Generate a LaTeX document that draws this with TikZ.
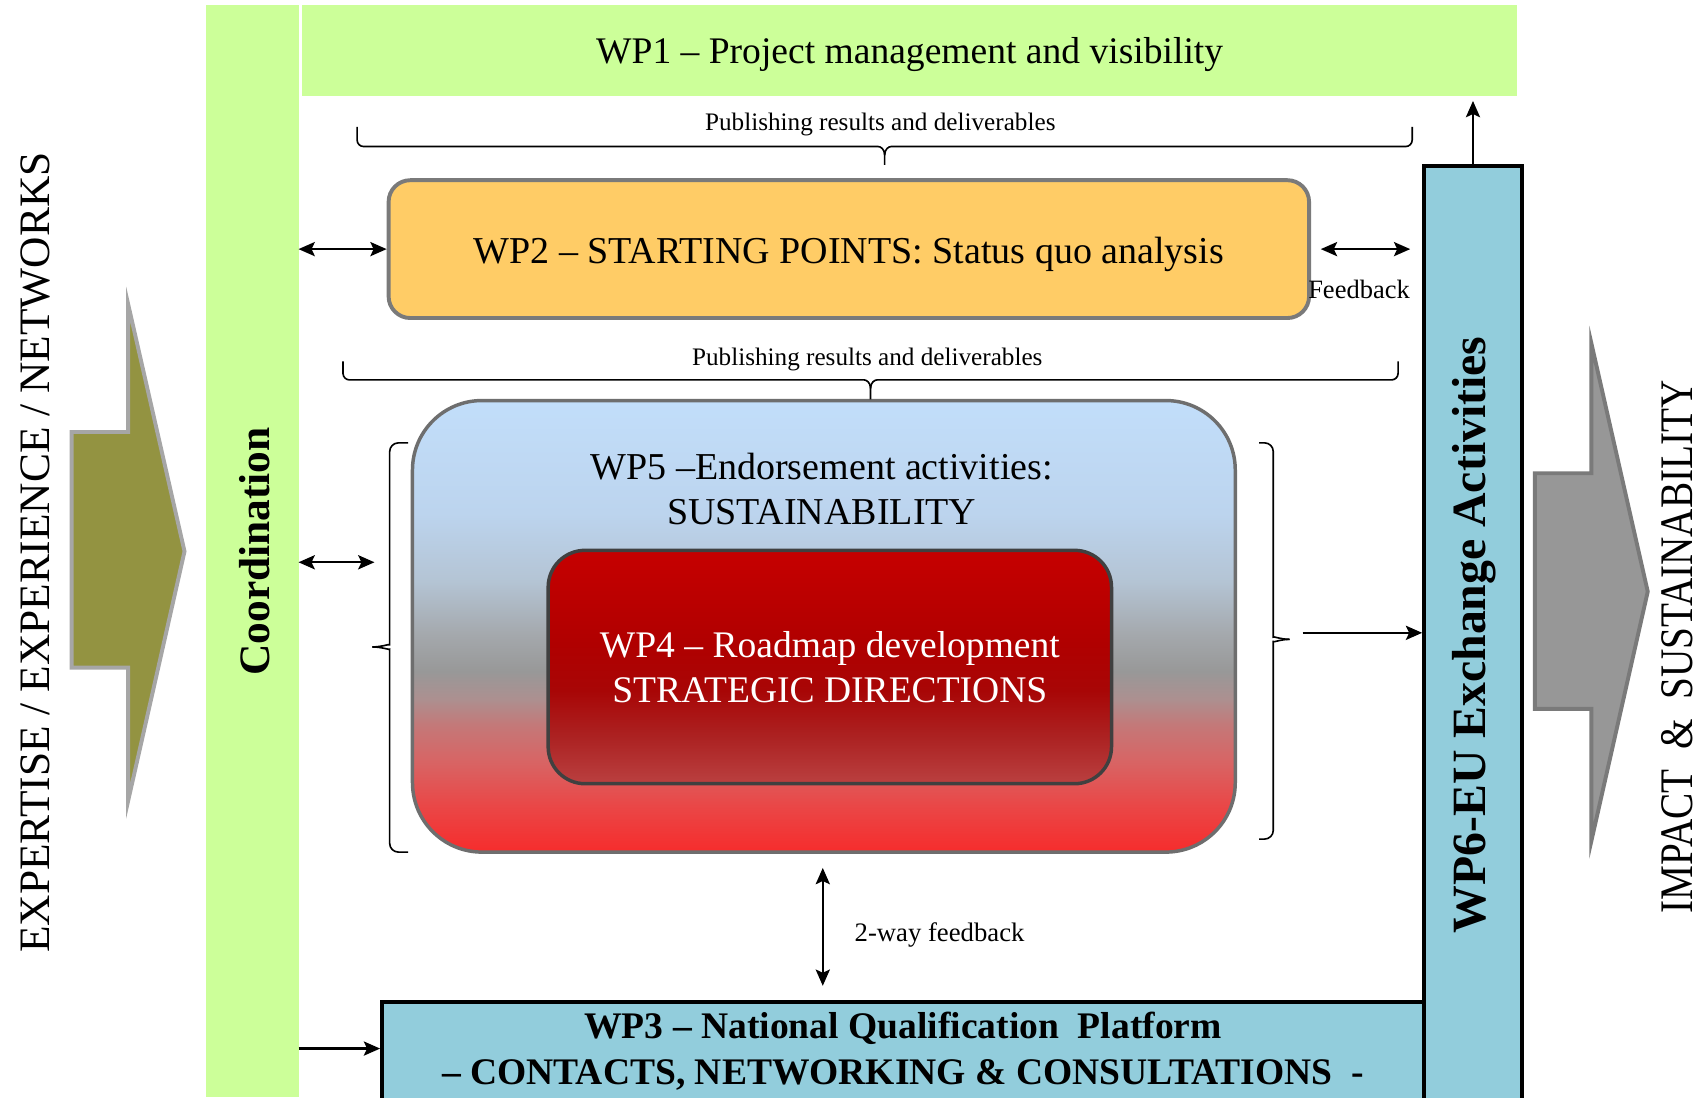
\documentclass[tikz,border=0pt]{standalone}
\usepackage{fontspec}
\setmainfont{Liberation Serif}
\newfontfamily\condfont[FakeStretch=0.84]{Liberation Serif}
\usetikzlibrary{arrows.meta}
\definecolor{lgreen}{HTML}{CCFF99}
\definecolor{wptwo}{HTML}{FFCC66}
\definecolor{teal}{HTML}{92CDDC}
\definecolor{olivearr}{HTML}{939341}
\definecolor{olivebrd}{HTML}{A6A6A6}
\definecolor{grayarr}{HTML}{979797}
\definecolor{graybrd}{HTML}{7A7A7A}
\definecolor{fa}{HTML}{F62C2C}
\definecolor{fb}{HTML}{EA4646}
\definecolor{fc}{HTML}{D86464}
\definecolor{fd}{HTML}{C47878}
\definecolor{fe}{HTML}{AC9090}
\definecolor{ff}{HTML}{989898}
\definecolor{fg}{HTML}{A4A8AC}
\definecolor{fh}{HTML}{B4C4D4}
\definecolor{fi}{HTML}{BCD4EE}
\definecolor{fj}{HTML}{C2DEFA}
\definecolor{ra}{HTML}{BA4040}
\definecolor{rb}{HTML}{AC2222}
\definecolor{rc}{HTML}{A80606}
\definecolor{rd}{HTML}{B00000}
\definecolor{re}{HTML}{C60000}
\pgfdeclareverticalshading{wpfiveshade}{100bp}{color(0bp)=(fa); color(25bp)=(fa); color(30bp)=(fb); color(35bp)=(fc); color(39bp)=(fd); color(42bp)=(fe); color(45bp)=(ff); color(49bp)=(fg); color(55bp)=(fh); color(62.5bp)=(fi); color(75bp)=(fj); color(100bp)=(fj)}
\pgfdeclareverticalshading{wpfourshade}{100bp}{color(0bp)=(ra); color(25bp)=(ra); color(35bp)=(rb); color(45bp)=(rc); color(55bp)=(rd); color(75bp)=(re); color(100bp)=(re)}
\begin{document}
\begin{tikzpicture}[x=0.5pt,y=-0.5pt,
  bar/.style={fill=lgreen, inner sep=0pt, outer sep=0pt},
  tealbox/.style={fill=teal, draw=black, line width=1.8pt, inner sep=0pt},
  dbl/.style={{Stealth[length=7.5pt,width=6.5pt,inset=1.5pt]}-{Stealth[length=7.5pt,width=6.5pt,inset=1.5pt]}, line width=1.1pt},
  sgl/.style={-{Stealth[length=7.5pt,width=6.5pt,inset=1.5pt]}, line width=1.1pt},
  brc/.style={line width=0.75pt, black},
  pub/.style={font=\fontsize{11.6}{13}\selectfont, inner sep=0pt}
]
\useasboundingbox (0,0) rectangle (1568,1011);
\clip (0,0) rectangle (1568,1011);

% big arrows
\draw[fill=olivearr, draw=olivebrd, line width=1.8pt, line join=miter]
  (66,398) -- (118,398) -- (118,280) -- (170,508) -- (118,738) -- (118,615) -- (66,615) -- cycle;
\draw[fill=grayarr, draw=graybrd, line width=1.8pt, line join=miter]
  (1414,436) -- (1466,436) -- (1466,316) -- (1518,545) -- (1466,775) -- (1466,653) -- (1414,653) -- cycle;

\node[rotate=90, font=\fontsize{20}{24}\selectfont, inner sep=0pt] (expt) at (33,509) {EXPERTISE / EXPERIENCE / NETWORKS};
\node[rotate=90, font=\fontsize{21.5}{26}\condfont, inner sep=0pt] (impt) at (1545,596) {IMPACT\ \ \&\ \ SUSTAINABILITY};

% coordination bar
\node[bar, minimum width=42.5pt, minimum height=503pt] (coord) at (232.5,508) {};
\node[rotate=90, font=\fontsize{20}{24}\selectfont\bfseries, inner sep=0pt] (coordt) at (235,508) {Coordination};

% WP1
\node[bar, minimum width=560pt, minimum height=41.5pt, text height=15.8pt, text depth=3.8pt, font=\fontsize{17.3}{20}\selectfont] (wp1) at (838,46.5) {WP1 – Project management and visibility};

% WP6
\node[tealbox, minimum width=45pt, minimum height=430.5pt] (wp6) at (1357,583.5) {};
\node[rotate=90, font=\fontsize{22}{26}\selectfont\bfseries, inner sep=0pt] (wp6t) at (1358,585) {WP6-EU Exchange Activities};

% WP3
\node[tealbox, minimum width=480pt, minimum height=45.5pt, align=center, font=\fontsize{17.3}{21.5}\selectfont\bfseries] (wp3) at (832,968.5)
  {WP3 – National Qualification\ \ Platform\\– CONTACTS, NETWORKING \& CONSULTATIONS\ \ -};

% WP2
\node[fill=wptwo, draw=graybrd, line width=1.8pt, rounded corners=10pt, minimum width=424pt, minimum height=63.5pt, inner sep=0pt, text height=17pt, text depth=3.8pt, font=\fontsize{17.5}{20}\selectfont] (wp2) at (782,229.5)
  {WP2 – STARTING POINTS: Status quo analysis};

% WP5
\node[shading=wpfiveshade, draw=graybrd!90!black, line width=1.6pt, rounded corners=32pt, minimum width=379pt, minimum height=208pt, inner sep=0pt] (wp5) at (759,577) {};
\node[align=center, font=\fontsize{17.5}{20.5}\selectfont, inner sep=0pt] (wp5t) at (757,450.5) {WP5 –Endorsement activities:\\SUSTAINABILITY};

% WP4
\node[shading=wpfourshade, draw=black!75, line width=1.6pt, rounded corners=17pt, minimum width=259.5pt, minimum height=107.5pt, inner sep=0pt, text=white, align=center, font=\fontsize{17.3}{21}\selectfont] (wp4) at (764.5,614.5)
  {WP4 – Roadmap development\\STRATEGIC DIRECTIONS};

% braces
\node[pub] (pub1) at (811,115) {Publishing results and deliverables};
\draw[brc] (329,117) [rounded corners=3pt] -- (329,135) -- (803,135) [sharp corners] .. controls (811,135) and (815,137) .. (815,143) -- (815,152);
\draw[brc] (1301,117) [rounded corners=3pt] -- (1301,135) -- (827,135) [sharp corners] .. controls (819,135) and (815,137) .. (815,143);
\node[pub] (pub2) at (799,331) {Publishing results and deliverables};
\draw[brc] (316,333) [rounded corners=3pt] -- (316,350) -- (790,350) [sharp corners] .. controls (798,350) and (802,352) .. (802,358) -- (802,368);
\draw[brc] (1288,333) [rounded corners=3pt] -- (1288,350) -- (814,350) [sharp corners] .. controls (806,350) and (802,352) .. (802,358);

% brackets around WP5
\draw[brc] (376,408) [rounded corners=4pt] -- (359,408) -- (359,586) [sharp corners] .. controls (359,593) and (352,596) .. (343,596);
\draw[brc] (376,785) [rounded corners=4pt] -- (359,785) -- (359,606) [sharp corners] .. controls (359,599) and (352,596) .. (343,596);
\draw[brc] (1160,408) [rounded corners=4pt] -- (1173,408) -- (1173,579) [sharp corners] .. controls (1173,586) and (1180,589) .. (1188,589);
\draw[brc] (1160,773) [rounded corners=4pt] -- (1173,773) -- (1173,599) [sharp corners] .. controls (1173,592) and (1180,589) .. (1188,589);

% connectors
\coordinate (la) at (345,518);
\coordinate (rb) at (1200,583);
\draw[dbl] (coord.east |- wp2.west) -- (wp2.west);
\draw[dbl] ([xshift=4.5pt]wp2.east) -- ([xshift=-5.5pt]wp2.east -| wp6.west);
\node[font=\fontsize{12.2}{14}\selectfont, inner sep=0pt] (fb) at (1252,267) {Feedback};
\draw[dbl] (coord.east |- la) -- (la);
\draw[sgl] (rb) -- (rb -| wp6.west);
\draw[sgl] (wp6.north) -- (wp6.north |- 0,93);
\draw[sgl] (coord.east |- 0,966) -- (wp3.west |- 0,966);
\draw[dbl, shorten <=6.5pt, shorten >=6.5pt] (wp5.south -| 758,0) -- (wp3.north -| 758,0);
\node[anchor=west, font=\fontsize{12.3}{14}\selectfont, inner sep=0pt] (twoway) at (787,861) {2-way feedback};
\end{tikzpicture}
\end{document}
